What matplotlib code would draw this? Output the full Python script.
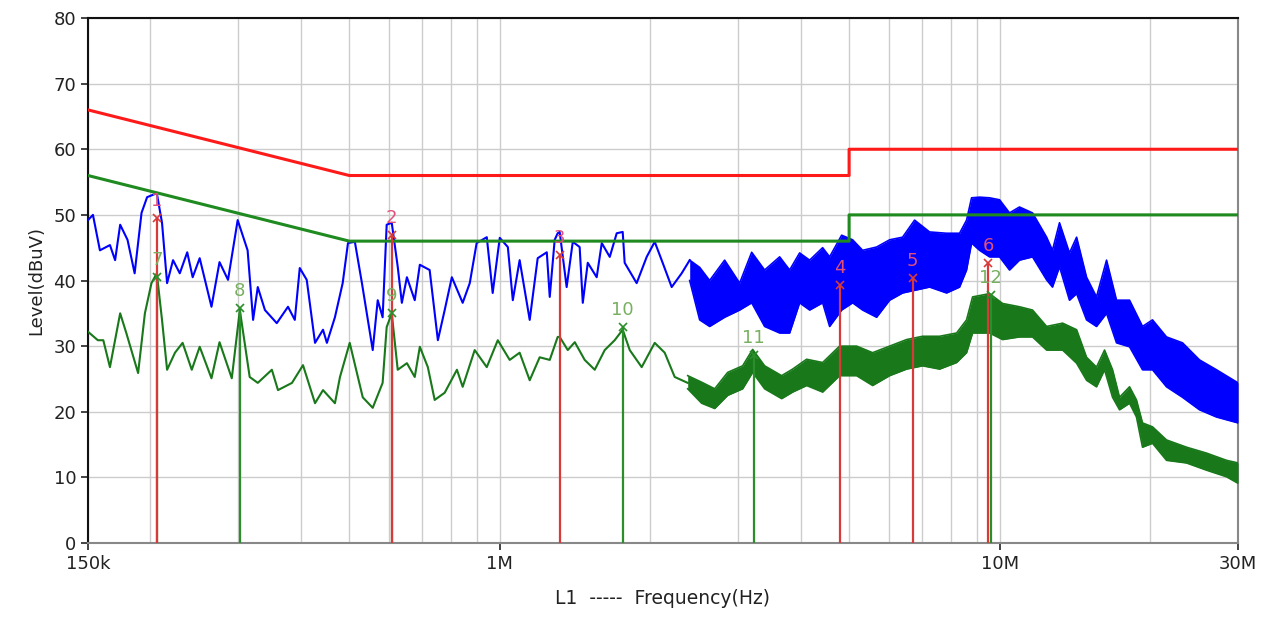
import matplotlib
matplotlib.use("Agg")
import matplotlib.pyplot as plt
from matplotlib.ticker import FixedLocator, NullFormatter

# ---- limit lines (MHz, dBuV) ----
limit_f = [0.15, 0.5, 5.0, 5.0, 30.0]
limit_qp = [66, 56, 56, 60, 60]
limit_av = [56, 46, 46, 50, 50]

# ---- peak trace, low band (single line) ----
peak_f = [0.150, 0.1535, 0.1585, 0.166, 0.170, 0.174, 0.180, 0.186, 0.192, 0.197,
          0.206, 0.211, 0.216, 0.222, 0.229, 0.237, 0.243, 0.251, 0.265, 0.275,
          0.286, 0.299, 0.313, 0.321, 0.328, 0.339, 0.358, 0.377, 0.389, 0.398,
          0.411, 0.427, 0.443, 0.451, 0.468, 0.485, 0.497, 0.513, 0.530, 0.542,
          0.557, 0.570, 0.583, 0.594, 0.608, 0.625, 0.637, 0.652, 0.676, 0.692,
          0.724, 0.752, 0.776, 0.802, 0.843, 0.871, 0.899, 0.942, 0.968, 1.000,
          1.038, 1.062, 1.096, 1.148, 1.191, 1.242, 1.259, 1.288, 1.306, 1.318,
          1.361, 1.400, 1.445, 1.466, 1.500, 1.563, 1.600, 1.660, 1.714, 1.762,
          1.778, 1.879, 1.968, 2.042, 2.118, 2.208, 2.312, 2.399]
peak_db = [49.2, 50.0, 44.6, 45.4, 43.1, 48.5, 46.2, 41.1, 50.3, 52.7,
           53.3, 48.8, 39.6, 43.1, 41.1, 44.3, 40.5, 43.4, 36.0, 42.8,
           40.1, 49.2, 44.6, 34.0, 39.0, 35.5, 33.5, 36.0, 34.0, 41.9,
           40.1, 30.5, 32.5, 30.5, 34.4, 39.6, 45.7, 45.9, 39.6, 35.0,
           29.4, 37.0, 34.4, 48.5, 48.8, 42.1, 36.6, 40.5, 37.0, 42.4,
           41.6, 30.9, 35.5, 40.5, 36.6, 39.6, 45.7, 46.6, 38.1, 46.5,
           45.1, 37.0, 43.1, 34.0, 43.4, 44.3, 37.5, 46.2, 47.2, 47.4,
           39.0, 45.9, 45.1, 36.6, 42.7, 40.5, 45.7, 43.6, 47.2, 47.4,
           42.7, 39.6, 43.6, 45.9, 42.7, 39.0, 41.1, 43.1]

# ---- peak trace, high band (dense noise: upper / lower envelope) ----
peak_band_f = [2.399, 2.512, 2.630, 2.818, 3.020, 3.192, 3.388, 3.631, 3.802, 3.981,
               4.169, 4.426, 4.571, 4.831, 5.082, 5.321, 5.675, 6.026, 6.397, 6.761,
               7.244, 7.834, 8.318, 8.590, 8.790, 9.120, 9.550, 10.00, 10.47, 10.96,
               11.64, 12.42, 12.76, 13.18, 13.80, 14.26, 14.93, 15.63, 16.37, 17.14,
               18.20, 19.32, 20.23, 21.58, 23.23, 25.12, 27.16, 30.00]
peak_band_hi = [43.1, 42.0, 40.0, 43.1, 39.6, 44.3, 41.6, 43.6, 41.6, 44.2,
                43.1, 45.0, 43.6, 46.9, 46.2, 44.6, 45.1, 46.2, 46.6, 49.2,
                47.4, 47.2, 47.2, 49.2, 52.6, 52.7, 52.6, 52.3, 50.3, 51.2,
                50.3, 46.6, 44.6, 48.8, 44.2, 46.6, 40.5, 37.5, 43.1, 37.0,
                37.0, 33.0, 34.0, 31.4, 30.5, 27.9, 26.4, 24.4]
peak_band_lo = [40.0, 34.0, 33.0, 34.4, 35.5, 36.6, 33.0, 32.0, 32.0, 36.6,
                35.5, 36.6, 33.0, 35.5, 36.6, 35.5, 34.4, 37.0, 38.1, 38.5,
                39.0, 38.1, 39.0, 41.6, 45.7, 44.6, 43.6, 43.6, 41.6, 43.1,
                43.6, 40.1, 39.0, 42.1, 37.0, 38.0, 34.0, 33.0, 35.0, 30.5,
                29.9, 26.4, 26.4, 23.8, 22.2, 20.3, 19.2, 18.3]

# ---- average trace, low band ----
avg_f = [0.150, 0.157, 0.161, 0.166, 0.174, 0.179, 0.189, 0.195, 0.201, 0.206,
         0.211, 0.216, 0.224, 0.232, 0.242, 0.251, 0.265, 0.275, 0.291, 0.302,
         0.316, 0.328, 0.350, 0.360, 0.384, 0.404, 0.427, 0.443, 0.468, 0.479,
         0.501, 0.532, 0.557, 0.583, 0.594, 0.608, 0.625, 0.652, 0.676, 0.692,
         0.718, 0.741, 0.776, 0.821, 0.843, 0.891, 0.942, 0.991, 1.047, 1.096,
         1.148, 1.202, 1.259, 1.306, 1.318, 1.368, 1.413, 1.479, 1.549, 1.622,
         1.698, 1.762, 1.820, 1.923, 2.042, 2.138, 2.239, 2.377]
avg_db = [32.2, 30.9, 30.9, 26.8, 35.0, 32.0, 25.9, 35.0, 39.6, 41.1,
          34.0, 26.4, 29.0, 30.5, 26.4, 29.9, 25.1, 30.6, 25.1, 35.5,
          25.3, 24.4, 26.4, 23.3, 24.4, 27.1, 21.3, 23.3, 21.3, 25.3,
          30.5, 22.2, 20.6, 24.4, 32.9, 35.0, 26.4, 27.4, 25.3, 29.9,
          26.8, 21.8, 22.9, 26.4, 23.8, 29.4, 26.8, 30.9, 27.9, 29.0,
          24.8, 28.3, 27.9, 31.4, 31.4, 29.4, 30.6, 27.9, 26.4, 29.4,
          30.9, 32.5, 29.4, 26.8, 30.5, 29.0, 25.3, 24.4]

# ---- average trace, high band ----
avg_band_f = [2.377, 2.535, 2.692, 2.858, 3.062, 3.206, 3.388, 3.664, 3.855, 4.111,
              4.426, 4.786, 5.176, 5.572, 6.026, 6.516, 7.015, 7.586, 8.204, 8.590,
              8.831, 9.550, 10.14, 10.96, 11.64, 12.42, 13.37, 14.26, 14.93, 15.63,
              16.22, 16.83, 17.38, 18.20, 18.79, 19.32, 20.23, 21.58, 23.66, 25.94,
              28.44, 30.00]
avg_band_hi = [25.5, 24.5, 23.5, 26.0, 27.0, 29.5, 27.0, 25.5, 26.5, 28.0,
               27.5, 30.0, 30.0, 29.0, 30.0, 31.0, 31.5, 31.5, 32.0, 34.0,
               37.5, 38.0, 36.5, 36.0, 35.5, 33.0, 33.5, 32.5, 28.3, 26.8,
               29.4, 26.4, 22.2, 23.8, 21.8, 18.3, 17.7, 15.7, 14.6, 13.7,
               12.6, 12.2]
avg_band_lo = [23.5, 21.3, 20.5, 22.5, 23.5, 26.0, 23.5, 22.0, 23.0, 24.0,
               23.0, 25.5, 25.5, 24.0, 25.5, 26.5, 27.0, 26.5, 27.5, 29.0,
               32.0, 32.0, 31.0, 31.4, 31.4, 29.4, 29.4, 27.4, 24.8, 23.8,
               26.4, 22.2, 20.3, 21.3, 19.2, 14.6, 15.2, 12.6, 12.2, 11.1,
               10.1, 9.1]

# ---- final measurement markers ----
qp_ids = ["1", "2", "3", "4", "5", "6"]
qp_f = [0.206, 0.608, 1.318, 4.786, 6.70, 9.50]
qp_db = [49.5, 46.9, 43.9, 39.3, 40.4, 42.7]
av_ids = ["7", "8", "9", "10", "11", "12"]
av_f = [0.206, 0.302, 0.608, 1.762, 3.221, 9.60]
av_db = [40.5, 35.8, 35.0, 32.9, 28.6, 37.8]

BLUE = "#0000ff"
TRACE_GREEN = "#18781a"
LIMIT_RED = "#ff1a1a"
LIMIT_GREEN = "#1f8a1f"

fig = plt.figure(figsize=(12.69, 6.23), dpi=100)
ax = fig.add_axes([0.0693, 0.1284, 0.9063, 0.8427])

# traces
ax.plot(peak_f, peak_db, color=BLUE, lw=1.5, zorder=3)
ax.fill_between(peak_band_f, peak_band_lo, peak_band_hi, color=BLUE, lw=0, zorder=3)
ax.plot(peak_band_f, peak_band_hi, color=BLUE, lw=1.2, zorder=3)
ax.plot(peak_band_f, peak_band_lo, color=BLUE, lw=1.2, zorder=3)

ax.plot(avg_f, avg_db, color=TRACE_GREEN, lw=1.5, zorder=3)
ax.fill_between(avg_band_f, avg_band_lo, avg_band_hi, color=TRACE_GREEN, lw=0, zorder=3)
ax.plot(avg_band_f, avg_band_hi, color=TRACE_GREEN, lw=1.2, zorder=3)
ax.plot(avg_band_f, avg_band_lo, color=TRACE_GREEN, lw=1.2, zorder=3)

# limits
ax.plot(limit_f, limit_qp, color=LIMIT_RED, lw=2.2, zorder=4)
ax.plot(limit_f, limit_av, color=LIMIT_GREEN, lw=2.2, zorder=4)

# marker lines, crosses and labels
for ids, fs, dbs, lcol, tcol in [(av_ids, av_f, av_db, "#2a8f2a", "#78b060"),
                                 (qp_ids, qp_f, qp_db, "#d83a3a", "#e0507a")]:
    for n, f, db in zip(ids, fs, dbs):
        ax.vlines(f, 0, db, color=lcol, lw=1.6, zorder=5)
        ax.plot(f, db, marker="x", ms=6, mew=1.2, color=lcol, zorder=6)
        ax.text(f, db + 1.2, n, color=tcol, fontsize=13, ha="center", va="bottom",
                zorder=6)

ax.set_xscale("log")
ax.set_xlim(0.15, 30)
ax.set_ylim(0, 80)
ax.set_xticks([0.15, 1, 10, 30])
ax.set_xticklabels(["150k", "1M", "10M", "30M"])
minor = [k * 0.1 for k in range(2, 10)] + list(range(2, 10)) + [20]
ax.xaxis.set_minor_locator(FixedLocator(minor))
ax.xaxis.set_minor_formatter(NullFormatter())
ax.set_yticks(range(0, 81, 10))

ax.grid(True, which="both", color="#cccccc", lw=1.0, zorder=0)
ax.set_axisbelow(True)
ax.tick_params(axis="both", which="major", labelsize=13, colors="#222222",
               length=5, width=1.2)
ax.tick_params(axis="x", which="minor", length=0)
for side in ["left", "top"]:
    ax.spines[side].set_color("#111111")
    ax.spines[side].set_linewidth(1.5)
for side in ["right", "bottom"]:
    ax.spines[side].set_color("#888888")
    ax.spines[side].set_linewidth(1.5)

ax.set_ylabel("Level(dBuV)", fontsize=13, color="#222222", labelpad=6)
ax.set_xlabel("L1  -----  Frequency(Hz)", fontsize=13.5, color="#222222", labelpad=12)

fig.savefig("out.png", dpi=100)
